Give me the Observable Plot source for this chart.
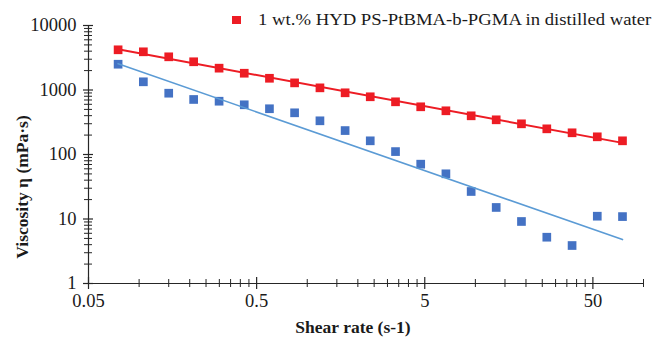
<!DOCTYPE html>
<html><head><meta charset="utf-8">
<script src="https://cdn.jsdelivr.net/npm/d3@7"></script>
<script src="https://cdn.jsdelivr.net/npm/@observablehq/plot@0.6"></script>
<style>
html,body{margin:0;padding:0;background:#fff;}
#wrap{position:relative;width:657px;height:343px;overflow:hidden;}
#lg-sw{position:absolute;left:232px;top:15.5px;width:8.5px;height:8.5px;background:#ED1C24;}
#lg-tx{position:absolute;left:258px;top:11px;font-family:"Liberation Serif",serif;font-size:17px;line-height:17px;white-space:nowrap;color:#1a1a1a;transform:scaleX(1.1);transform-origin:0 50%;}
#ytitle{position:absolute;left:22px;top:187px;transform:translate(-50%,-50%) rotate(-90deg);font-family:"Liberation Serif",serif;font-weight:bold;font-size:17.5px;line-height:18px;white-space:nowrap;color:#1a1a1a;}
</style></head>
<body>
<div id="wrap"><div id="chart"></div><div id="lg-sw"></div><div id="lg-tx"></div><div id="ytitle"></div></div>
<script>
// Shear rate (s-1) of each measurement
const shearRate = [0.075, 0.106, 0.150, 0.211, 0.299, 0.422, 0.596, 0.841, 1.19, 1.68, 2.37, 3.35, 4.73, 6.68, 9.44, 13.3, 18.8, 26.6, 37.6, 53.1, 75];
// Viscosity (mPa·s), red series: 1 wt.% HYD PS-PtBMA-b-PGMA in distilled water
const viscRed = [4200, 3910, 3270, 2740, 2180, 1820, 1520, 1290, 1080, 905, 785, 656, 549, 476, 398, 345, 299, 250, 217, 188, 163];
// Viscosity (mPa·s), blue series
const viscBlue = [2510, 1340, 892, 713, 670, 590, 512, 443, 333, 235, 163, 111, 70.8, 50.2, 26.7, 15.1, 9.15, 5.22, 3.88, 11.05, 10.9];
const seriesNames = ["1 wt.% HYD PS-PtBMA-b-PGMA in distilled water", "blue series"];
const xTicks = [0.05, 0.5, 5, 50];
const xTickLabels = ["0.05", "0.5", "5", "50"];
const yTicks = [1, 10, 100, 1000, 10000];
const yTickLabels = ["1", "10", "100", "1000", "10000"];
const xTitle = "Shear rate (s-1)";
const yTitle = "Viscosity η (mPa·s)";

const RED = "#ED1C24", BLUE = "#4472C4", BLUE_LINE = "#5B9BD5", AX = "#262626";

const redData = shearRate.map((x, i) => ({x, y: viscRed[i]}));
const blueData = shearRate.map((x, i) => ({x, y: viscBlue[i]}));

// power-law trendline (least squares in log-log space), as Excel does
function powerFit(data) {
  const lx = data.map(d => Math.log10(d.x)), ly = data.map(d => Math.log10(d.y));
  const mx = d3.mean(lx), my = d3.mean(ly);
  const b = d3.sum(lx, (v, i) => (v - mx) * (ly[i] - my)) / d3.sum(lx, v => (v - mx) ** 2);
  const a = my - b * mx;
  const [x0, x1] = d3.extent(data, d => d.x);
  return [x0, x1].map(x => ({x, y: 10 ** (a + b * Math.log10(x))}));
}

const xMinor = xTicks.flatMap(b => d3.range(2, 10).map(k => +(b * k).toPrecision(3))).filter(v => v <= 100);
const yMinor = yTicks.slice(0, -1).flatMap(b => d3.range(2, 10).map(k => b * k));

const chart = Plot.plot({
  width: 657, height: 343,
  marginLeft: 88, marginRight: 14, marginTop: 25, marginBottom: 60,
  x: {type: "log", domain: [0.05, 100], label: null},
  y: {type: "log", domain: [1, 10000], label: null},
  style: {fontFamily: "Liberation Serif, serif", background: "white", color: AX, overflow: "visible"},
  marks: [
    Plot.ruleY([1], {stroke: AX, strokeWidth: 1.2}),
    Plot.ruleX([0.05], {stroke: AX, strokeWidth: 1.2}),
    Plot.axisX(xMinor, {tickSize: 8, dy: -4, tickFormat: () => "", label: null, stroke: AX}),
    Plot.axisX(xTicks, {tickSize: 12, dy: -6, tickFormat: () => "", label: null, stroke: AX, strokeWidth: 1.2}),
    Plot.text(xTicks, {x: d => d, frameAnchor: "bottom", dy: 23, text: (d, i) => xTickLabels[i], fontSize: 18.5, fill: "#1a1a1a"}),
    Plot.axisY(yMinor, {tickSize: 8, dx: 4, tickFormat: () => "", label: null, stroke: AX}),
    Plot.axisY(yTicks, {tickSize: 10, dx: 5, tickFormat: () => "", label: null, stroke: AX, strokeWidth: 1.2}),
    Plot.text(yTicks, {y: d => d, frameAnchor: "left", dx: -12, textAnchor: "end", text: (d, i) => yTickLabels[i], fontSize: 18.5, fill: "#1a1a1a"}),
    Plot.dot(blueData, {x: "x", y: "y", symbol: "square", r: 4.9, fill: BLUE}),
    Plot.line(powerFit(blueData), {x: "x", y: "y", stroke: BLUE_LINE, strokeWidth: 1.6}),
    Plot.line(powerFit(redData), {x: "x", y: "y", stroke: RED, strokeWidth: 2}),
    Plot.dot(redData, {x: "x", y: "y", symbol: "square", r: 4.9, fill: RED}),
    Plot.text([xTitle], {frameAnchor: "bottom", dx: -13, dy: 49, text: d => d, fontWeight: "bold", fontSize: 17.5, fill: "#1a1a1a"})
  ]
});
document.getElementById("chart").appendChild(chart);
document.getElementById("lg-tx").textContent = seriesNames[0];
document.getElementById("ytitle").textContent = yTitle;
</script>
</body></html>
